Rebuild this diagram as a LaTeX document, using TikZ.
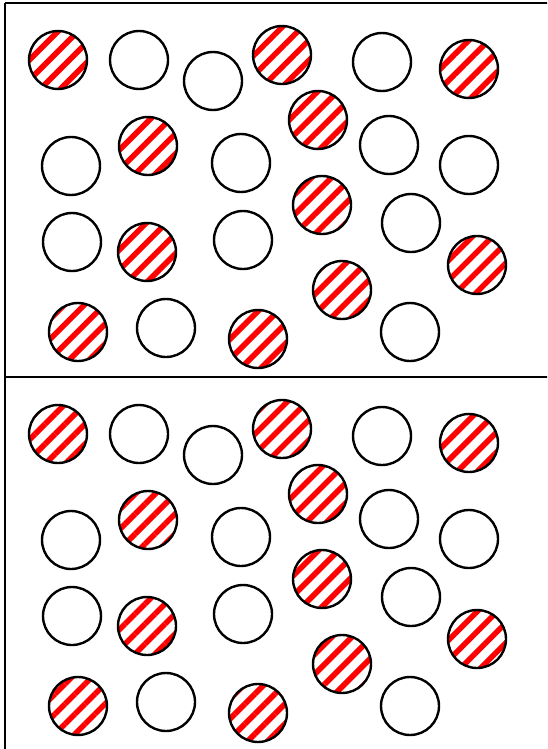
\documentclass[tikz,border=0pt]{standalone}
\usetikzlibrary{patterns.meta}
\tikzset{
  ball/.style={circle, draw=black, line width=1.8pt, minimum size=43.5pt, inner sep=0pt, fill=white},
  striped/.style={ball, pattern={Lines[angle=45,distance=10.6pt,line width=4.2pt]}, pattern color=red},
  frame/.style={draw=black, line width=1.8pt}
}
\begin{document}
\begin{tikzpicture}[x=0.75pt,y=-0.75pt]
\useasboundingbox (0,0) rectangle (547,749);
\clip (0,0) rectangle (547,749);
\foreach \p/\dy in {a/0,b/374}{
  \begin{scope}[yshift=-\dy*0.75pt]
    \draw[frame] (5,3) -- (560,3);
    \draw[frame] (5,3) -- (5,377.5);
    % striped circles
    \node[striped] (\p s1) at (58,60) {};
    \node[striped] (\p s2) at (282,55) {};
    \node[striped] (\p s3) at (469,69) {};
    \node[striped] (\p s4) at (318,120) {};
    \node[striped] (\p s5) at (148,146) {};
    \node[striped] (\p s6) at (322,205) {};
    \node[striped] (\p s7) at (147,252) {};
    \node[striped] (\p s8) at (477,265) {};
    \node[striped] (\p s9) at (342,290) {};
    \node[striped] (\p s10) at (78,332) {};
    \node[striped] (\p s11) at (258,339) {};
    % white circles
    \node[ball] (\p w1) at (139,60) {};
    \node[ball] (\p w2) at (213,81) {};
    \node[ball] (\p w3) at (382,62) {};
    \node[ball] (\p w4) at (71,166) {};
    \node[ball] (\p w5) at (241,163) {};
    \node[ball] (\p w6) at (389,145) {};
    \node[ball] (\p w7) at (469,165) {};
    \node[ball] (\p w8) at (72,242) {};
    \node[ball] (\p w9) at (243,240) {};
    \node[ball] (\p w10) at (411,223) {};
    \node[ball] (\p w11) at (166,328) {};
    \node[ball] (\p w12) at (410,332) {};
  \end{scope}
}
\end{tikzpicture}
\end{document}
